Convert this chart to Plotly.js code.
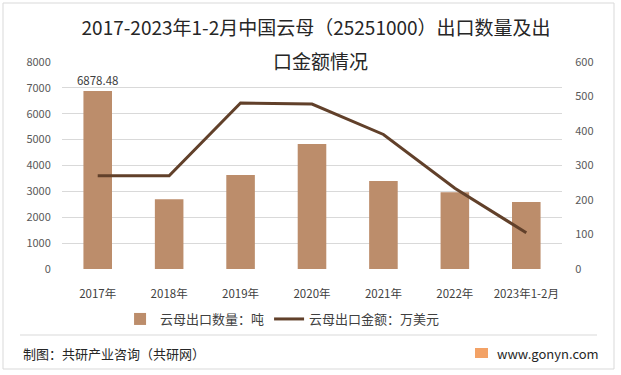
<!DOCTYPE html>
<html>
<head>
<meta charset="utf-8">
<script src="https://cdn.plot.ly/plotly-3.0.1.min.js"></script>
<style>html,body{margin:0;padding:0;background:#fff;}#chart{width:621px;height:375px;}</style>
</head>
<body>
<div id="chart"></div>
<script>
const categories = ['2017年','2018年','2019年','2020年','2021年','2022年','2023年1-2月'];
const exportVolume = [6878.48, 2700, 3630, 4830, 3400, 2970, 2590];
const exportValue = [270, 270, 481, 478, 390, 234, 105];
const volumeLabels = ['6878.48', '', '', '', '', '', ''];
const titleLine1 = '2017-2023年1-2月中国云母（25251000）出口数量及出';
const titleLine2 = '口金额情况';

const L = 62, R = 562, T = 62, B = 269;
const px = x => (x - L) / (R - L);
const py = y => (B - y) / (B - T);
const font = '"Noto Sans CJK SC", "Noto Sans", sans-serif';

const traces = [
  {
    type: 'bar', x: categories, y: exportVolume, name: '云母出口数量：吨',
    marker: {color: '#BC8D6B'},
    text: volumeLabels, textposition: 'outside', cliponaxis: false, constraintext: 'none',
    textfont: {size: 11.5, color: '#404040', family: font},
    hoverinfo: 'x+y'
  },
  {
    type: 'scatter', mode: 'lines', x: categories, y: exportValue, yaxis: 'y2',
    name: '云母出口金额：万美元',
    line: {color: '#61402A', width: 3}
  }
];

const layout = {
  width: 621, height: 375,
  margin: {l: L, r: 621 - R, t: T, b: 375 - B},
  paper_bgcolor: '#fff', plot_bgcolor: '#fff',
  font: {family: font, color: '#595959', size: 11},
  title: {
    text: titleLine1,
    x: 0.509, xanchor: 'center', y: 1 - 28 / 375, yanchor: 'middle',
    font: {size: 19, color: '#262626', family: font}
  },
  bargap: 0.6,
  xaxis: {
    type: 'category', showgrid: false, zeroline: false, showline: false,
    ticks: 'outside', ticklen: 14, tickcolor: 'rgba(0,0,0,0)',
    tickfont: {size: 11.5, color: '#404040'}, fixedrange: true
  },
  yaxis: {
    range: [0, 8000], dtick: 1000, showgrid: true, gridcolor: '#D9D9D9', gridwidth: 1,
    zeroline: false, showline: false, ticks: 'outside', ticklen: 8, tickcolor: 'rgba(0,0,0,0)',
    tickfont: {size: 11, color: '#595959'}
  },
  yaxis2: {
    overlaying: 'y', side: 'right', range: [0, 600], dtick: 100,
    showgrid: false, zeroline: false, showline: false,
    ticks: 'outside', ticklen: 10, tickcolor: 'rgba(0,0,0,0)',
    tickfont: {size: 11, color: '#595959'}
  },
  showlegend: true,
  legend: {
    orientation: 'h', xref: 'container', yref: 'container',
    x: 0.455, xanchor: 'center', y: 1 - 319 / 375, yanchor: 'middle',
    font: {size: 13, color: '#404040', family: font},
    itemwidth: 30, tracegroupgap: 0
  },
  shapes: [
    {type: 'rect', xref: 'paper', yref: 'paper', x0: px(3), x1: px(614), y0: py(369), y1: py(3),
     line: {color: '#D9D9D9', width: 1}, fillcolor: 'rgba(0,0,0,0)', layer: 'below'},
    {type: 'line', xref: 'paper', yref: 'paper', x0: px(20), x1: px(597), y0: py(335), y1: py(335),
     line: {color: '#D9D9D9', width: 1}},
    {type: 'rect', xref: 'paper', yref: 'paper', x0: px(475), x1: px(488), y0: py(358), y1: py(348),
     line: {width: 0}, fillcolor: '#F3A266'}
  ],
  annotations: [
    {xref: 'paper', yref: 'paper', x: px(320), y: py(61), xanchor: 'center', yanchor: 'middle',
     text: titleLine2, showarrow: false, bgcolor: 'rgba(255,255,255,0)',
     font: {size: 19, color: '#262626', family: font}},
    {xref: 'paper', yref: 'paper', x: px(21), y: py(353), xanchor: 'left', yanchor: 'middle',
     text: '制图：共研产业咨询（共研网）', showarrow: false, font: {size: 13, color: '#262626', family: font}},
    {xref: 'paper', yref: 'paper', x: px(495), y: py(353), xanchor: 'left', yanchor: 'middle',
     text: 'www.gonyn.com', showarrow: false, font: {size: 13, color: '#262626', family: font}}
  ]
};

Plotly.newPlot('chart', traces, layout, {displayModeBar: false, staticPlot: true});
</script>
</body>
</html>
